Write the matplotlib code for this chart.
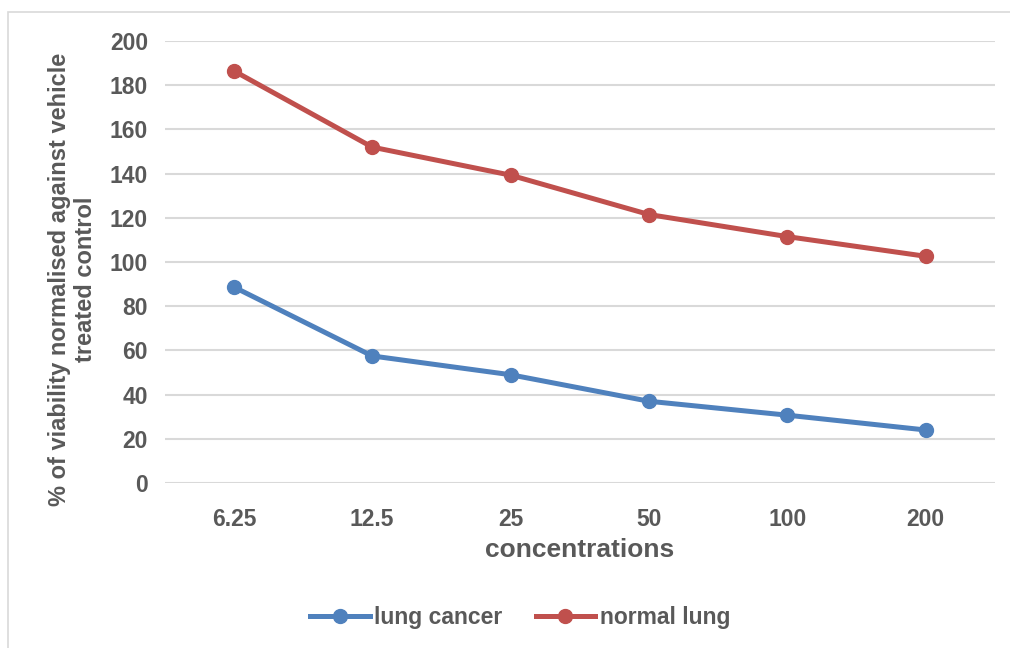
import matplotlib.pyplot as plt
from matplotlib.patches import Rectangle

concentrations = ['6.25', '12.5', '25', '50', '100', '200']
lung_cancer = [88.7, 57.5, 49.0, 37.0, 30.7, 24.0]
normal_lung = [186.5, 152.0, 139.3, 121.5, 111.5, 102.6]

plt.rcParams['font.family'] = ['Liberation Sans', 'DejaVu Sans']
grey = '#595959'

fig = plt.figure(figsize=(10.1, 6.48), dpi=100)
ax = fig.add_axes([0.163, 0.2546, 0.822, 0.6821])

x = range(len(concentrations))
ax.plot(x, lung_cancer, color='#4F81BD', lw=3.6, marker='o', ms=10, label='lung cancer')
ax.plot(x, normal_lung, color='#C0504D', lw=3.6, marker='o', ms=10, label='normal lung')

ax.set_xlim(-0.5, 5.5)
ax.set_ylim(0, 200)
ax.set_yticks(range(0, 201, 20))
ax.set_xticks(list(x))
ax.set_xticklabels(concentrations)
ax.grid(axis='y', color='#D9D9D9', lw=1.5)
ax.set_axisbelow(True)
for s in ax.spines.values():
    s.set_visible(False)
ax.tick_params(axis='y', length=0, labelsize=16.5, labelcolor=grey, pad=12)
ax.tick_params(axis='x', length=0, labelsize=16.5, labelcolor=grey, pad=18)
for t in ax.get_xticklabels() + ax.get_yticklabels():
    t.set_fontweight('bold')

ax.set_xlabel('concentrations', fontsize=19, fontweight='bold', color=grey, labelpad=5)
ax.set_ylabel('% of viability normalised against vehicle\ntreated control', fontsize=17,
              fontweight='bold', color=grey, linespacing=1.15)
ax.yaxis.set_label_coords(-0.082, 0.46)

leg = fig.legend(loc='center', bbox_to_anchor=(0.515, 0.047), ncol=2, frameon=False,
                 fontsize=16.5, handlelength=2.6, columnspacing=1.45, handletextpad=0.2)
for t in leg.get_texts():
    t.set_color(grey)
    t.set_fontweight('bold')

fig.patches.append(Rectangle((8 / 1010, -0.01), 1.0, 1 - 12 / 648 + 0.01, transform=fig.transFigure,
                             fill=False, edgecolor='#D9D9D9', lw=1.2))

fig.savefig('out.png', dpi=100)
